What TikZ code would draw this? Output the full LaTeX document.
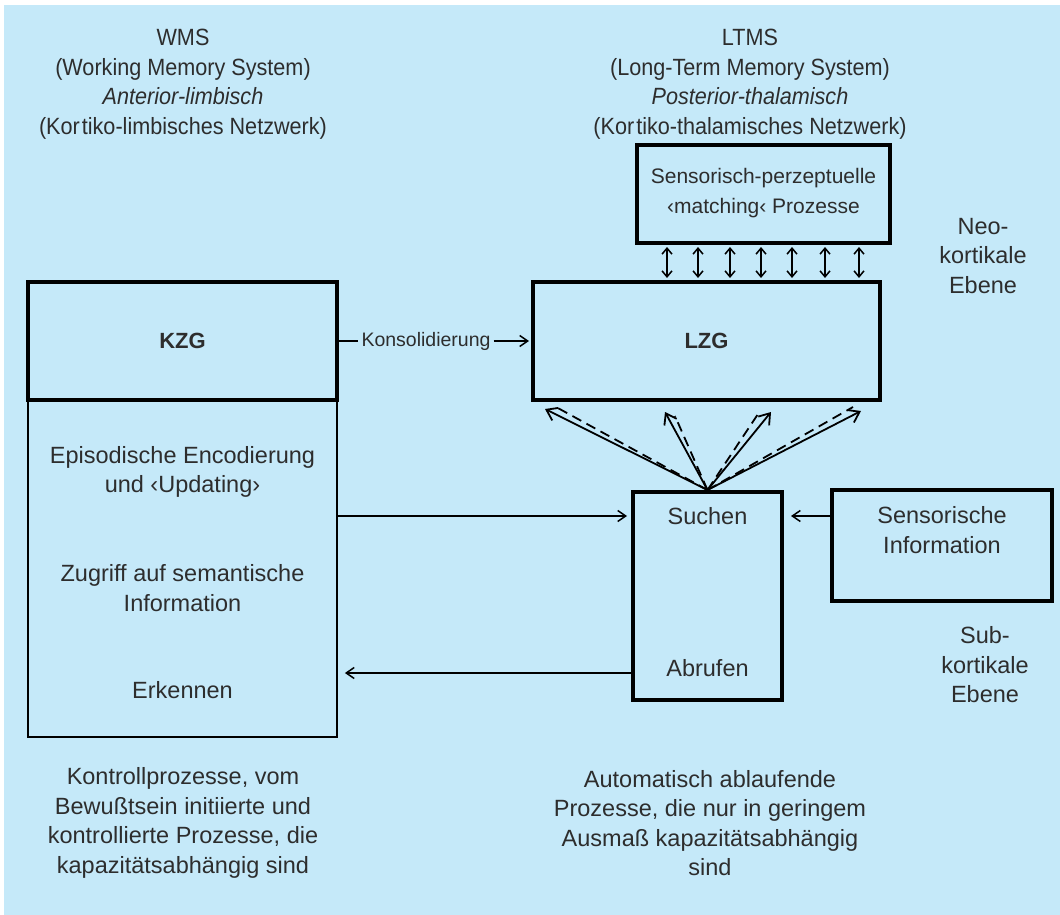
\documentclass[tikz,border=0pt]{standalone}
\usepackage{fontspec}
\setmainfont{Liberation Sans}
\newfontfamily\headfont[FakeStretch=0.92]{Liberation Sans}
\usetikzlibrary{arrows.meta}
\definecolor{bg}{RGB}{197,233,249}
\definecolor{txt}{RGB}{45,45,45}
\begin{document}
\begin{tikzpicture}[x=1pt,y=-1pt,
  thickbox/.style={draw=black,line width=4pt,inner sep=0pt},
  thinbox/.style={draw=black,line width=1.8pt,inner sep=0pt},
  lbl/.style={text=txt,align=center,inner sep=0pt,font=\fontsize{23.5}{29.5}\selectfont},
  head/.style={text=txt,align=center,inner sep=0pt,font=\headfont\fontsize{23.5}{29.5}\selectfont},
  plainln/.style={draw=black,line width=1.6pt},
  arr/.style={draw=black,line width=1.5pt,-{Straight Barb[length=8pt,width=11pt]}},
  fanarr/.style={draw=black,line width=1.8pt,-{Straight Barb[length=10pt,width=14pt]}},
  dashln/.style={draw=black,line width=1.8pt,dash pattern=on 10pt off 6pt},
  dblarr/.style={draw=black,line width=1.5pt,{Straight Barb[length=6pt,width=10pt]}-{Straight Barb[length=6pt,width=10pt]},shorten >=2pt,shorten <=2pt}
]
\useasboundingbox (0,0) rectangle (1060,915);
\fill[bg] (4,5) rectangle (1060,915);

% headers
\node[head] (wms) at (183,84) {WMS\\(Working Memory System)\\\textit{Anterior-limbisch}\\(Kor\kern2pt tiko-limbisches Netzwerk)};
\node[head] (ltms) at (750,84) {LTMS\\(Long-Term Memory System)\\\textit{Posterior-thalamisch}\\(Kor\kern2pt tiko-thalamisches Netzwerk)};

% left column
\node[thinbox, minimum width=309pt, minimum height=337pt] (wmsbox) at (182.5,568.5) {};
\node[thickbox, minimum width=309pt, minimum height=118pt, text=txt, font=\bfseries\fontsize{22}{26}\selectfont] (kzg) at (182.5,341) {KZG};
\node[lbl] (epi) at (182.5,472) {Episodische Encodierung\\und ‹Updating›};
\node[lbl] (zug) at (182.5,588) {Zugriff auf semantische\\Information};
\node[lbl] (erk) at (182.5,690) {Erkennen};
\node[lbl] (ctrl) at (183,823) {Kontrollprozesse, vom\\Bewußtsein initiierte und\\kontrollierte Prozesse, die\\kapazitätsabhängig sind};

% right column
\node[thickbox, minimum width=253pt, minimum height=98pt] (sp) at (763.5,194) {};
\node[lbl, font=\fontsize{21}{29.5}\selectfont] (sptxt) at (763.5,193) {Sensorisch-perzeptuelle\\‹matching‹ Prozesse};
\node[thickbox, minimum width=347pt, minimum height=118pt, text=txt, font=\bfseries\fontsize{22}{26}\selectfont] (lzg) at (706.5,341) {LZG};
\node[thickbox, minimum width=149pt, minimum height=208pt] (such) at (707.5,596) {};
\node[lbl] (suchtxt) at (707.5,516) {Suchen};
\node[lbl] (abruf) at (707.5,668) {Abrufen};
\node[thickbox, minimum width=220pt, minimum height=111pt] (sens) at (942,545.5) {};
\node[lbl] (senstxt) at (942,530) {Sensorische\\Information};
\node[lbl] (neo) at (983,256) {Neo-\\kortikale\\Ebene};
\node[lbl] (sub) at (985,665) {Sub-\\kortikale\\Ebene};
\node[lbl] (auto) at (710,823) {Automatisch ablaufende\\Prozesse, die nur in geringem\\Ausmaß kapazitätsabhängig\\sind};

% Konsolidierung
\node[lbl, font=\fontsize{19.5}{24}\selectfont, inner sep=3pt] (kons) at (426,341) {Konsolidierung};
\draw[plainln] (kzg.east) -- (kons.west);
\draw[arr, shorten >=2pt] (kons.east) -- (lzg.west);

% vertical double arrows
\foreach \i/\x in {1/667,2/698,3/730,4/761,5/792,6/825,7/859}{
  \coordinate (v\i) at (\x,0);
  \draw[dblarr] (sp.south -| v\i) -- (lzg.north -| v\i);
}

% fan
\coordinate (f1) at (545,409);
\coordinate (f2) at (665,412);
\coordinate (f3) at (771,412);
\coordinate (f4) at (861,411);
\coordinate (d1) at (556,407);
\coordinate (d2) at (675,416);
\coordinate (d3) at (758,414);
\coordinate (d4) at (853,407);
\foreach \i in {1,2,3,4}{
  \draw[fanarr] (such.north) -- (f\i);
  \draw[dashln] (such.north) -- (d\i);
}

% horizontal arrows
\coordinate (abry) at (0,673);
\draw[arr, shorten >=4pt] (wmsbox.east |- suchtxt) -- (such.west |- suchtxt);
\draw[arr, shorten >=7pt] (sens.west |- suchtxt) -- (such.east |- suchtxt);
\draw[arr, shorten >=7pt] (such.west |- abry) -- (wmsbox.east |- abry);
\end{tikzpicture}
\end{document}
